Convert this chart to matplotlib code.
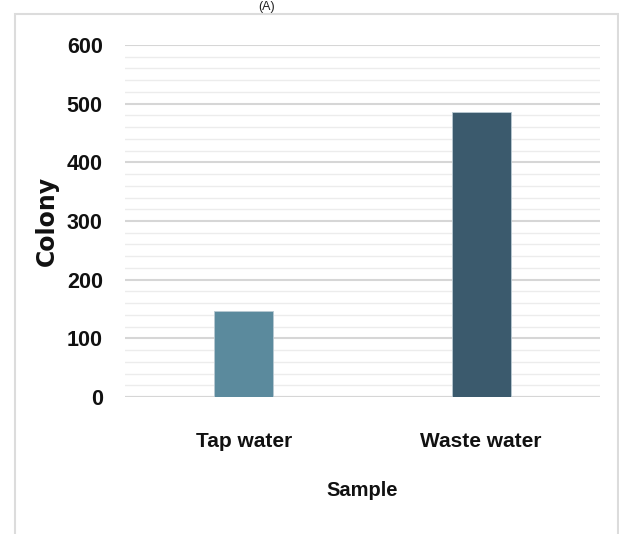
import matplotlib
matplotlib.use("Agg")
import matplotlib.pyplot as plt
from matplotlib.patches import Rectangle
from matplotlib.ticker import MultipleLocator

samples = ["Tap water", "Waste water"]
colony = [147, 485]
bar_colors = ["#5B8A9D", "#3B5A6D"]

yticks = [0, 100, 200, 300, 400, 500, 600]

LABEL_FONT = ["Liberation Sans", "DejaVu Sans"]
TEXT_COLOR = "#111111"

fig = plt.figure(figsize=(6.19, 5.34), dpi=100)
fig.patch.set_facecolor("white")

# outer frame of the panel
fig.patches.append(Rectangle((14.5 / 619, -0.01), 603 / 619, 1 - 14 / 534 + 0.01,
                             transform=fig.transFigure, fill=False,
                             edgecolor="#dcdcdc", linewidth=1.5))
fig.text(267 / 619, 0.998, "(A)", ha="center", va="top",
         fontsize=9, family=LABEL_FONT, color="#222222")

ax = fig.add_axes([125 / 619, 1 - 397 / 534, 475 / 619, 352 / 534])
ax.bar(range(len(samples)), colony, width=0.25, color=bar_colors,
       edgecolor="#b9c9d2", linewidth=0.6, zorder=3)

ax.set_xlim(-0.5, 1.5)
ax.set_ylim(0, 600)
ax.set_yticks(yticks)
ax.yaxis.set_minor_locator(MultipleLocator(20))
ax.grid(axis="y", which="major", color="#d6d6d6", linewidth=1.5, zorder=0)
ax.grid(axis="y", which="minor", color="#ececec", linewidth=1.0, zorder=0)

for s in ax.spines.values():
    s.set_visible(False)
ax.axhline(0, color="#d6d6d6", linewidth=1.5, zorder=2)

ax.set_xticks(range(len(samples)))
ax.set_xticklabels(samples)
ax.tick_params(axis="both", which="both", length=0)
ax.tick_params(axis="y", pad=16)
ax.tick_params(axis="x", pad=25)
for lab in ax.get_yticklabels():
    lab.set_family(LABEL_FONT)
    lab.set_fontweight("bold")
    lab.set_fontsize(15.5)
    lab.set_color(TEXT_COLOR)
for lab in ax.get_xticklabels():
    lab.set_family(LABEL_FONT)
    lab.set_fontweight("bold")
    lab.set_fontsize(15)
    lab.set_color(TEXT_COLOR)

ax.set_ylabel("Colony", fontsize=17, fontweight="bold", family=["DejaVu Sans"],
              color=TEXT_COLOR)
ax.yaxis.set_label_coords(-0.139, 0.5)
ax.set_xlabel("Sample", fontsize=14.5, fontweight="bold", family=LABEL_FONT,
              color=TEXT_COLOR)
ax.xaxis.set_label_coords(0.5, -0.238)

fig.savefig("out.png", dpi=100, facecolor="white")
